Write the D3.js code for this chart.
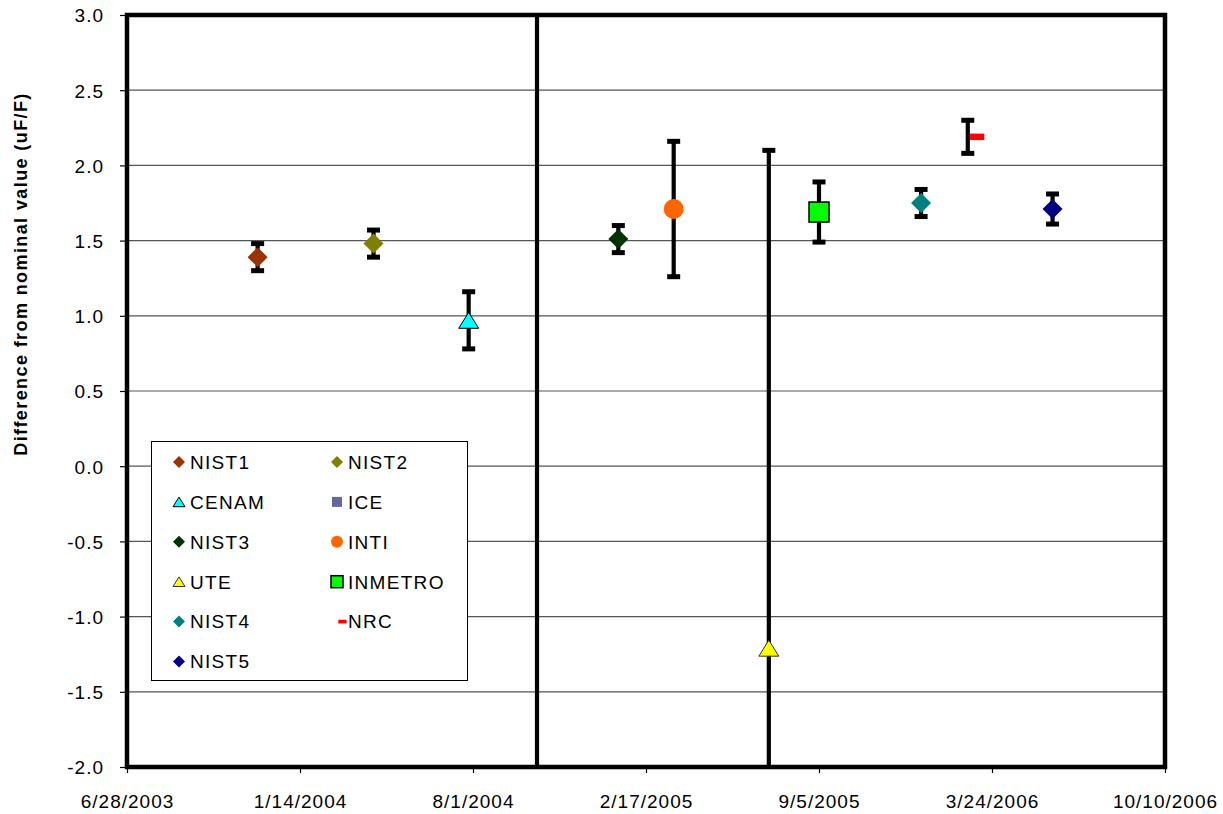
<!DOCTYPE html>
<html>
<head>
<meta charset="utf-8">
<script src="https://cdn.jsdelivr.net/npm/d3@7"></script>
<style>
  body { margin: 0; background: #fff; }
  text { font-family: "Liberation Sans", Arial, sans-serif; fill: #000; }
</style>
</head>
<body>
<svg id="chart" width="1223" height="814"></svg>
<script>
// Capacitor comparison: difference from nominal value by measurement date
const series = ["NIST1", "NIST2", "CENAM", "ICE", "NIST3", "INTI", "UTE", "INMETRO", "NIST4", "NRC", "NIST5"];
const dates = ["2003-11-26", "2004-04-08", "2004-07-27", "2004-10-14", "2005-01-16", "2005-03-21",
               "2005-07-09", "2005-09-05", "2006-01-01", "2006-02-24", "2006-06-02"];
const values = [1.39, 1.48, 0.97, 4.5, 1.51, 1.71, -1.21, 1.69, 1.75, 2.19, 1.71];
const uncertainties = [0.09, 0.09, 0.19, 8.0, 0.09, 0.45, 3.31, 0.20, 0.09, 0.11, 0.10];
const xTickLabels = ["6/28/2003", "1/14/2004", "8/1/2004", "2/17/2005", "9/5/2005", "3/24/2006", "10/10/2006"];
const yTicks = [3.0, 2.5, 2.0, 1.5, 1.0, 0.5, 0.0, -0.5, -1.0, -1.5, -2.0];

// marker appearance per series
const markerStyle = {
  NIST1:   { shape: "diamond",  fill: "#993300", stroke: "none" },
  NIST2:   { shape: "diamond",  fill: "#808000", stroke: "none" },
  CENAM:   { shape: "triangle", fill: "#00FFFF", stroke: "#000" },
  ICE:     { shape: "square",   fill: "#666699", stroke: "none" },
  NIST3:   { shape: "diamond",  fill: "#003300", stroke: "none" },
  INTI:    { shape: "circle",   fill: "#FF6600", stroke: "none" },
  UTE:     { shape: "triangle", fill: "#FFFF00", stroke: "#333" },
  INMETRO: { shape: "square",   fill: "#00FF00", stroke: "#000" },
  NIST4:   { shape: "diamond",  fill: "#008080", stroke: "none" },
  NRC:     { shape: "dash",     fill: "#FF0000", stroke: "none" },
  NIST5:   { shape: "diamond",  fill: "#000080", stroke: "none" }
};

const parse = d3.utcParse("%m/%d/%Y");
const parseIso = d3.utcParse("%Y-%m-%d");
const tickDates = xTickLabels.map(parse);

const plot = { left: 127, right: 1165, top: 15, bottom: 767 };

const x = d3.scaleUtc()
  .domain([tickDates[0], tickDates[tickDates.length - 1]])
  .range([plot.left, plot.right]);
const y = d3.scaleLinear().domain([-2, 3]).range([plot.bottom, plot.top]);

const svg = d3.select("#chart");
const FONT = "'Liberation Sans', Arial, sans-serif";

svg.append("defs").append("clipPath").attr("id", "plotClip")
  .append("rect")
  .attr("x", plot.left).attr("y", plot.top)
  .attr("width", plot.right - plot.left).attr("height", plot.bottom - plot.top);

// horizontal gridlines
svg.append("g").selectAll("line")
  .data(yTicks)
  .join("line")
  .attr("x1", plot.left).attr("x2", plot.right)
  .attr("y1", d => y(d)).attr("y2", d => y(d))
  .attr("stroke", "#555").attr("stroke-width", 1.2);

// y axis: ticks and labels (plain hyphen for negatives)
const yAxis = d3.axisLeft(y).tickValues(yTicks).tickSize(7).tickPadding(16)
  .tickFormat(d => d.toFixed(1));
const yg = svg.append("g").attr("transform", `translate(${plot.left},0)`).call(yAxis);
yg.select(".domain").remove();
yg.selectAll(".tick line").attr("stroke", "#000").attr("stroke-width", 1.2);
yg.selectAll(".tick text")
  .attr("font-size", 19).attr("letter-spacing", 1.0).attr("fill", "#111")
  .attr("font-family", FONT)
  .attr("dy", "0.36em");

// x axis: ticks and labels
const xAxis = d3.axisBottom(x).tickValues(tickDates).tickSize(6).tickPadding(22)
  .tickFormat((d, i) => xTickLabels[i]);
const xg = svg.append("g").attr("transform", `translate(0,${plot.bottom})`).call(xAxis);
xg.select(".domain").remove();
xg.selectAll(".tick line").attr("stroke", "#000").attr("stroke-width", 1.2);
xg.selectAll(".tick text")
  .attr("font-size", 19).attr("letter-spacing", 1.0).attr("fill", "#111")
  .attr("font-family", FONT);

// y axis title
svg.append("text")
  .attr("transform", `translate(27,${(88 + 460) / 2}) rotate(-90)`)
  .attr("text-anchor", "middle")
  .attr("font-family", FONT)
  .attr("font-size", 18).attr("font-weight", "bold").attr("letter-spacing", 1.4)
  .text("Difference from nominal value (uF/F)");

// marker drawing helper
function drawMarker(g, style, cx, cy, s) {
  const h = s / 2;
  if (style.shape === "diamond") {
    g.append("path")
      .attr("d", `M${cx},${cy - h}L${cx + h},${cy}L${cx},${cy + h}L${cx - h},${cy}Z`)
      .attr("fill", style.fill);
  } else if (style.shape === "triangle") {
    const th = s * 0.8;
    g.append("path")
      .attr("d", `M${cx},${cy - th / 2}L${cx + h},${cy + th / 2}L${cx - h},${cy + th / 2}Z`)
      .attr("fill", style.fill).attr("stroke", style.stroke).attr("stroke-width", 1);
  } else if (style.shape === "square") {
    g.append("rect")
      .attr("x", cx - h).attr("y", cy - h).attr("width", s).attr("height", s)
      .attr("fill", style.fill)
      .attr("stroke", style.stroke).attr("stroke-width", style.stroke === "none" ? 0 : 1.5);
  } else if (style.shape === "circle") {
    g.append("circle").attr("cx", cx).attr("cy", cy).attr("r", h).attr("fill", style.fill);
  } else if (style.shape === "dash") {
    g.append("rect")
      .attr("x", cx + s * 0.12).attr("y", cy - s * 0.17)
      .attr("width", s * 0.75).attr("height", s * 0.34)
      .attr("fill", style.fill);
  }
}

// error bars and markers
const marks = svg.append("g").attr("clip-path", "url(#plotClip)");
series.forEach((name, i) => {
  const cx = x(parseIso(dates[i]));
  const v = values[i], u = uncertainties[i];
  const g = marks.append("g");
  const yHi = y(v + u), yLo = y(v - u);
  g.append("line").attr("x1", cx).attr("x2", cx).attr("y1", yHi).attr("y2", yLo)
    .attr("stroke", "#000").attr("stroke-width", 4.2);
  [yHi, yLo].forEach(yy => {
    g.append("line").attr("x1", cx - 6.5).attr("x2", cx + 6.5).attr("y1", yy).attr("y2", yy)
      .attr("stroke", "#000").attr("stroke-width", 5);
  });
  drawMarker(g, markerStyle[name], cx, y(v), name === "NRC" ? 19 : 20);
});

// plot border
svg.append("rect")
  .attr("x", plot.left).attr("y", plot.top)
  .attr("width", plot.right - plot.left).attr("height", plot.bottom - plot.top)
  .attr("fill", "none").attr("stroke", "#000").attr("stroke-width", 4.5);

// legend
const legend = svg.append("g");
legend.append("rect")
  .attr("x", 151.5).attr("y", 441.5).attr("width", 316).attr("height", 239)
  .attr("fill", "#fff").attr("stroke", "#000").attr("stroke-width", 1);
series.forEach((name, i) => {
  const col = i % 2, row = Math.floor(i / 2);
  const mx = col === 0 ? 179 : 337;
  const my = 462 + row * 39.9;
  const st = markerStyle[name];
  const g = legend.append("g");
  drawMarker(g, st, mx, my, name === "NRC" ? 11 : (name === "ICE" ? 10 : 12));
  g.append("text")
    .attr("x", mx + 11).attr("y", my).attr("dy", "0.36em")
    .attr("font-family", FONT)
    .attr("font-size", 19).attr("letter-spacing", 1.3)
    .text(name);
});
</script>
</body>
</html>
